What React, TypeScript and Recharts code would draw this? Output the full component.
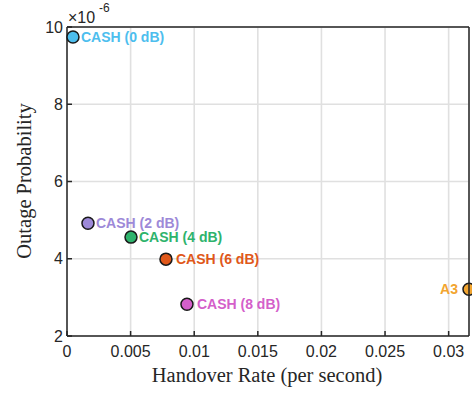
import React from 'react';
import { ScatterChart, Scatter, XAxis, YAxis, CartesianGrid } from 'recharts';

// values
const labels = ['CASH (0 dB)', 'CASH (2 dB)', 'CASH (4 dB)', 'CASH (6 dB)', 'CASH (8 dB)', 'A3'];
const handoverRate = [0.00047, 0.00165, 0.00503, 0.00778, 0.00943, 0.0316];
const outageProb = [9.74e-6, 4.92e-6, 4.56e-6, 3.99e-6, 2.82e-6, 3.21e-6];

const xTicks = [0, 0.005, 0.01, 0.015, 0.02, 0.025, 0.03];
const yTicks = [2e-6, 4e-6, 6e-6, 8e-6, 1e-5];
const xDomain = [0, 0.0316];
const yDomain = [2e-6, 1e-5];

const colors = ['#4DBEEE', '#9D89D8', '#2EB36C', '#E0581A', '#D45FCA', '#F2A530'];
const labelDx = [8, 8, 8, 10, 10, -11];

const rows = labels.map((label, i) => ({ i, label, x: handoverRate[i], y: outageProb[i] }));

const W = 472;
const H = 393;
const M = { top: 27, right: 3, bottom: 0, left: 0 };
const Y_AXIS_W = 67;
const X_AXIS_H = 57;
// plot box edges, derived from the chart margins / axis sizes
const BOX = { left: M.left + Y_AXIS_W, right: W - M.right, top: M.top, bottom: H - X_AXIS_H };

const AXIS = '#262626';
const SANS = 'Liberation Sans, Arial, Helvetica, sans-serif';
const SERIF = 'Liberation Serif, Times New Roman, serif';

const tickStyle = { fill: AXIS, fontSize: 16, fontFamily: SANS };

function Marker(props: any) {
  const { cx, cy, payload } = props;
  const i = payload.i;
  const dx = labelDx[i];
  return (
    <g>
      <circle cx={cx} cy={cy} r={6} fill={colors[i]} stroke="#1a1a1a" strokeWidth={1.5} />
      <text
        x={cx + dx}
        y={cy}
        dy="0.36em"
        textAnchor={dx < 0 ? 'end' : 'start'}
        fill={colors[i]}
        fontSize={14}
        fontWeight="bold"
        fontFamily={SANS}
      >
        {payload.label}
      </text>
    </g>
  );
}

export default function App() {
  return (
    <div style={{ position: 'absolute', left: 0, top: 0, width: W, height: H, background: '#fff' }}>
      <ScatterChart width={W} height={H} margin={M}>
        <CartesianGrid stroke="#e0e0e0" strokeWidth={1.6} />
        <XAxis
          type="number"
          dataKey="x"
          domain={xDomain}
          ticks={xTicks}
          height={X_AXIS_H}
          stroke={AXIS}
          strokeWidth={1.5}
          tickSize={-5}
          tickMargin={15}
          tick={tickStyle}
          tickFormatter={(v: number) => String(v)}
        />
        <YAxis
          type="number"
          dataKey="y"
          domain={yDomain}
          ticks={yTicks}
          width={Y_AXIS_W}
          stroke={AXIS}
          strokeWidth={1.5}
          tickSize={-5}
          tickMargin={9}
          tick={tickStyle}
          tickFormatter={(v: number) => String(Math.round(v * 1e6))}
        />
        {rows.map((r) => (
          <Scatter key={r.label} name={r.label} data={[r]} fill={colors[r.i]} shape={Marker} isAnimationActive={false} />
        ))}
      </ScatterChart>
      <svg width={W} height={H} style={{ position: 'absolute', left: 0, top: 0, pointerEvents: 'none' }}>
        {/* top and right edges of the axes box */}
        <line x1={BOX.left} x2={BOX.right} y1={BOX.top} y2={BOX.top} stroke={AXIS} strokeWidth={1.5} />
        <line x1={BOX.right} x2={BOX.right} y1={BOX.top} y2={BOX.bottom} stroke={AXIS} strokeWidth={1.5} />
        <text x={68} y={23} fill={AXIS} fontSize={16} fontFamily={SANS}>×10</text>
        <text x={99} y={12} fill={AXIS} fontSize={12} fontFamily={SANS}>-6</text>
        <text x={267} y={382} textAnchor="middle" fill={AXIS} fontSize={20.5} fontFamily={SERIF}>
          Handover Rate (per second)
        </text>
        <text
          x={0}
          y={0}
          transform="translate(31 181) rotate(-90)"
          textAnchor="middle"
          fill={AXIS}
          fontSize={20.5}
          fontFamily={SERIF}
        >
          Outage Probability
        </text>
      </svg>
    </div>
  );
}
